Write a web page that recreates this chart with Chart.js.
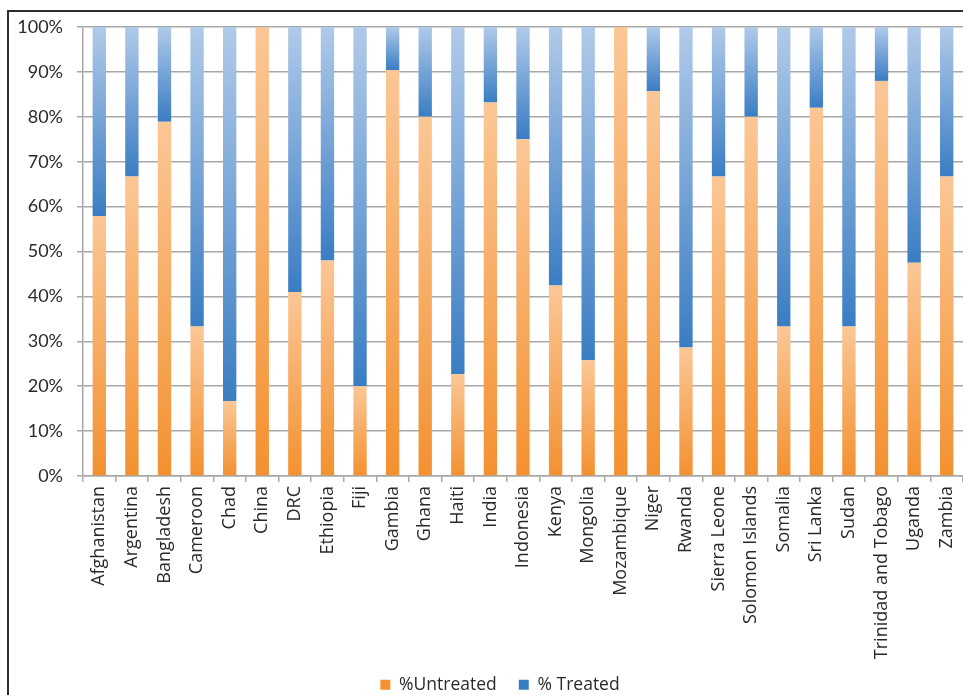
<!DOCTYPE html>
<html>
<head>
<meta charset="utf-8">
<script src="https://cdn.jsdelivr.net/npm/chart.js@4/dist/chart.umd.min.js"></script>
<style>
  html, body { margin: 0; padding: 0; background: #ffffff; }
  #wrap { position: relative; width: 963px; height: 695px; }
</style>
</head>
<body>
<div id="wrap"><canvas id="chart" width="963" height="695"></canvas></div>
<script>
// Countries on the category axis
const countries = [
  'Afghanistan', 'Argentina', 'Bangladesh', 'Cameroon', 'Chad', 'China', 'DRC',
  'Ethiopia', 'Fiji', 'Gambia', 'Ghana', 'Haiti', 'India', 'Indonesia', 'Kenya',
  'Mongolia', 'Mozambique', 'Niger', 'Rwanda', 'Sierra Leone', 'Solomon Islands',
  'Somalia', 'Sri Lanka', 'Sudan', 'Trinidad and Tobago', 'Uganda', 'Zambia'
];

// Share of cases untreated / treated, in percent
const untreated = [57.9, 66.7, 78.9, 33.3, 16.7, 100, 41.0, 48.0, 20.0, 90.4, 80.0, 22.7, 83.2, 75.0,
                   42.4, 25.8, 100, 85.7, 28.6, 66.7, 80.0, 33.3, 82.0, 33.3, 88.0, 47.5, 66.7];
const treated   = [42.1, 33.3, 21.1, 66.7, 83.3, 0, 59.0, 52.0, 80.0, 9.6, 20.0, 77.3, 16.8, 25.0,
                   57.6, 74.2, 0, 14.3, 71.4, 33.3, 20.0, 66.7, 18.0, 66.7, 12.0, 52.5, 33.3];

// Value-axis ticks
const percentTicks = [0, 10, 20, 30, 40, 50, 60, 70, 80, 90, 100];

const seriesNames = ['%Untreated', '% Treated'];

const FONT = 'Lato, "Liberation Sans", sans-serif';
const LABEL_FONT = '"Open Sans", Lato, sans-serif';
const TEXT = '#2a2a2a';
const GRID = '#a8a8a8';

// Vertical gradient spanning one stacked segment: dark at its base, light at its top
function segmentFill(dark, light, solid, isUpper) {
  return (ctx) => {
    const chart = ctx.chart;
    if (ctx.type !== 'data' || !chart.chartArea) return solid;
    const yScale = chart.scales.y;
    const i = ctx.dataIndex;
    const lo = isUpper ? untreated[i] : 0;
    const hi = isUpper ? untreated[i] + treated[i] : untreated[i];
    const y0 = yScale.getPixelForValue(lo);
    const y1 = yScale.getPixelForValue(hi);
    if (!isFinite(y0) || !isFinite(y1) || Math.abs(y0 - y1) < 0.5) return solid;
    const g = chart.ctx.createLinearGradient(0, y0, 0, y1);
    g.addColorStop(0, dark);
    g.addColorStop(1, light);
    return g;
  };
}

// Thin outer frame along the top and left edges
const framePlugin = {
  id: 'frame',
  afterDraw(chart) {
    const c = chart.ctx;
    c.save();
    c.strokeStyle = '#2e2e2e';
    c.lineWidth = 2;
    c.beginPath();
    c.moveTo(8, 695);
    c.lineTo(8, 11);
    c.lineTo(963, 11);
    c.stroke();
    c.restore();
  }
};

// The legend row sits beside the long rotated labels, so let its box
// overlap the bottom of the category axis and center it right of middle
const legendSpan = {
  id: 'legendSpan',
  afterLayout(chart) {
    const lg = chart.legend;
    if (!lg) return;
    lg.left = 37;
    lg.width = lg.right - lg.left;
    lg.top = chart.height - 41;
    lg.height = lg.bottom - lg.top;
  }
};

new Chart(document.getElementById('chart'), {
  type: 'bar',
  data: {
    labels: countries,
    datasets: [
      {
        label: seriesNames[0],
        data: untreated,
        backgroundColor: segmentFill('#f39130', '#fbc796', '#f7a35c', false),
        borderWidth: 0,
        barPercentage: 0.41,
        categoryPercentage: 1.0
      },
      {
        label: seriesNames[1],
        data: treated,
        backgroundColor: segmentFill('#3a7dc3', '#b0cae9', '#5b8fd1', true),
        borderWidth: 0,
        barPercentage: 0.41,
        categoryPercentage: 1.0
      }
    ]
  },
  options: {
    responsive: false,
    animation: false,
    devicePixelRatio: 1,
    layout: { padding: { left: 0, right: 0, top: 27, bottom: 0 } },
    plugins: {
      title: { display: false },
      tooltip: { enabled: false },
      legend: {
        position: 'bottom',
        maxHeight: 24,
        labels: {
          boxWidth: 10,
          boxHeight: 10,
          padding: 22,
          color: TEXT,
          font: { family: LABEL_FONT, size: 17.5 }
        }
      }
    },
    scales: {
      x: {
        stacked: true,
        offset: true,
        grid: {
          offset: true,
          drawOnChartArea: false,
          drawTicks: true,
          tickLength: 6,
          color: GRID,
          lineWidth: 1.5
        },
        border: { display: true, color: GRID, width: 1.5 },
        ticks: {
          autoSkip: false,
          minRotation: 90,
          maxRotation: 90,
          padding: 4,
          color: TEXT,
          font: { family: LABEL_FONT, size: 18 }
        },
        afterFit(scale) {
          scale.height = 195;
          scale.paddingLeft = 0;
          scale.paddingRight = 0;
        }
      },
      y: {
        stacked: true,
        min: 0,
        max: 100,
        afterBuildTicks(scale) {
          scale.ticks = percentTicks.map(v => ({ value: v }));
        },
        grid: {
          color: GRID,
          lineWidth: 1.5,
          drawTicks: true,
          tickLength: 6
        },
        border: { display: true, color: GRID, width: 1.5 },
        ticks: {
          padding: 14,
          color: TEXT,
          font: { family: FONT, size: 18 },
          callback: (v) => v + '%'
        },
        afterFit(scale) {
          scale.width = 83;
        }
      }
    }
  },
  plugins: [framePlugin, legendSpan]
});
</script>
</body>
</html>
